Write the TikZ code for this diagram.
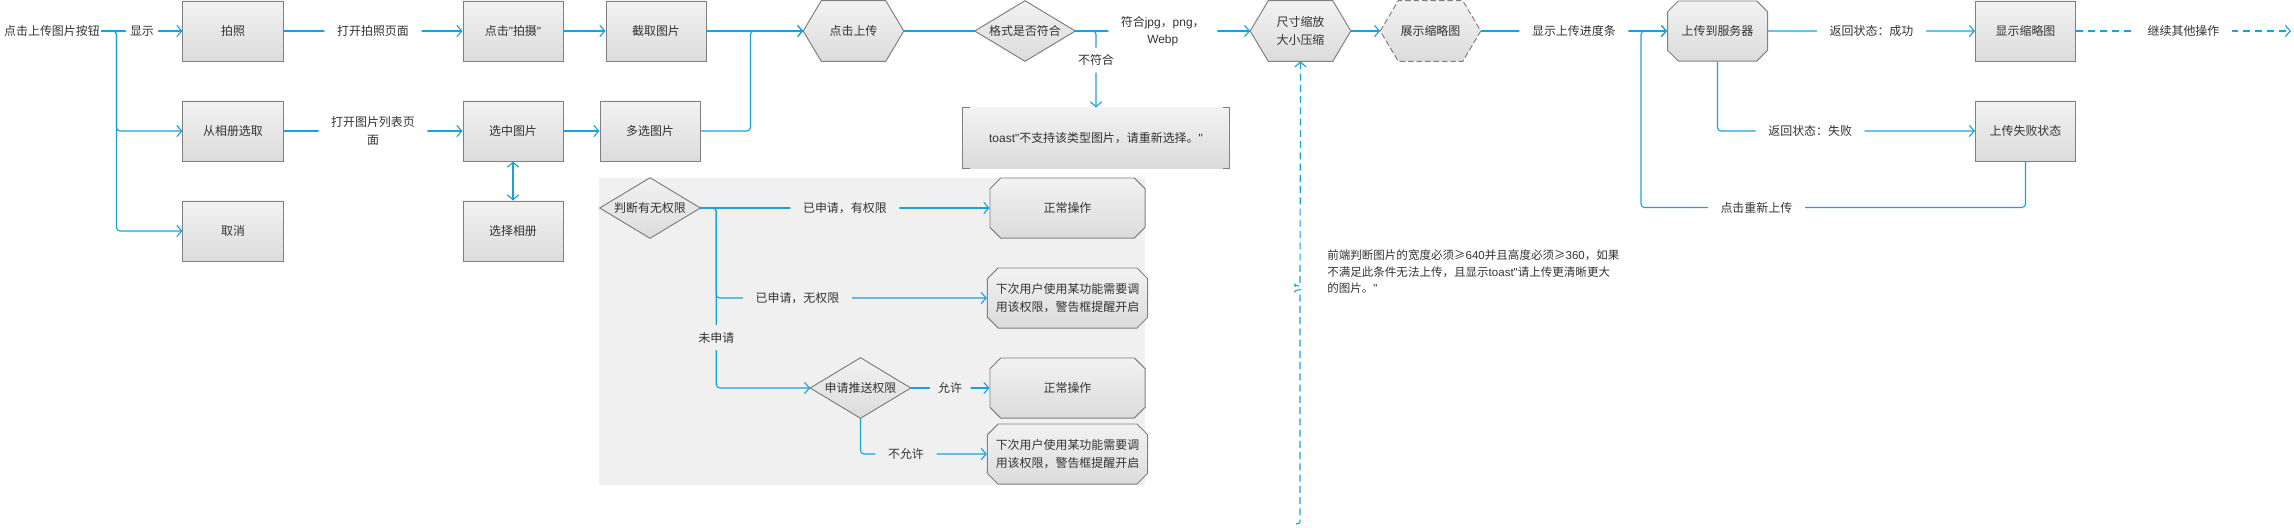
\documentclass[tikz,border=0pt]{standalone}
\usepackage{fontspec}
\setmainfont{Noto Sans CJK SC}
\newfontfamily\lat{Liberation Sans}
\usepackage{xcolor}
\usepackage{tikz}
\usetikzlibrary{arrows.meta,positioning,calc,backgrounds,shapes.misc}
\definecolor{cBlue}{HTML}{1BA1D9}
\definecolor{cEdge}{HTML}{808080}
\definecolor{cInk}{HTML}{333333}
\definecolor{cPanel}{HTML}{F0F0F0}
\newcommand\fs{\fontsize{8.5}{12.5}\selectfont}
\tikzset{
  grad/.style={top color=white!95!black,bottom color=white!86!black},
  box/.style={draw=cEdge,grad,line width=0.7pt,minimum width=2.5cm,minimum height=1.5cm,align=center,font=\fs,text=cInk,inner sep=2pt},
  cbox/.style={box,chamfered rectangle,chamfered rectangle xsep=4pt},
  txt/.style={font=\fs,text=cInk,align=center,inner sep=1pt},
  shp/.style={txt,minimum width=2.5cm,minimum height=1.5cm},
  outl/.style={draw=cEdge,grad,line width=0.7pt},
  arr/.style={-{Straight Barb[length=3.5pt,width=8pt]},line width=0.8pt,color=cBlue,rounded corners=2.5pt},
  ln/.style={line width=0.8pt,color=cBlue,rounded corners=2.5pt},
  darr/.style={{Straight Barb[length=3.5pt,width=8pt]}-{Straight Barb[length=3.5pt,width=8pt]},line width=0.8pt,color=cBlue},
  lbl/.style={font=\fs,text=cInk,fill=white,inner xsep=9pt,inner ysep=5pt,align=center},
  plbl/.style={lbl,fill=cPanel},
}
% outlines drawn behind a text node
\newcommand\hexpath[2][]{\begin{scope}[on background layer]
  \draw[outl,#1] (#2.west) -- ([xshift=0.45cm]#2.north west) -- ([xshift=-0.45cm]#2.north east) -- (#2.east)
    -- ([xshift=-0.45cm]#2.south east) -- ([xshift=0.45cm]#2.south west) -- cycle;
  \end{scope}}
\newcommand\diapath[1]{\begin{scope}[on background layer]
  \draw[outl] (#1.west) -- (#1.north) -- (#1.east) -- (#1.south) -- cycle;
  \end{scope}}

\begin{document}
\begin{tikzpicture}[x=0.025cm,y=-0.025cm]
  \useasboundingbox (0,0) rectangle (2294,527);
  \begin{scope}[on background layer]
    \fill[cPanel] (599,178) rectangle (1145,485);
  \end{scope}

  % entry and choice
  \node[txt] (start) at (52,31) {点击上传图片按钮};
  \node[box] (photo) at (233,31) {拍照};
  \node[box] (album) at (233,131) {从相册选取};
  \node[box] (cancel) at (233,231) {取消};
  \node[box] (shoot) at (513,31) {点击{\lat"}拍摄{\lat"}};
  \node[box] (pick) at (513,131) {选中图片};
  \node[box] (albsel) at (513,231) {选择相册};
  \node[box] (crop) at (656,31) {截取图片};
  \node[box] (multi) at (650,131) {多选图片};

  \draw[arr] (start.east) -- node[lbl,inner xsep=3pt]{显示} (photo.west);
  \draw[arr] (start.east) -- ++(15,0) |- (album.west);
  \draw[arr] (start.east) -- ++(15,0) |- (cancel.west);
  \draw[arr] (photo) -- node[lbl]{打开拍照页面} (shoot);
  \draw[arr] (album) -- node[lbl]{打开图片列表页\\面} (pick);
  \draw[arr] (shoot) -- (crop);
  \draw[arr] (pick) -- (multi);
  \draw[darr] (pick) -- (albsel);

  % checks before upload
  \node[shp] (upload) at (853.5,31) {点击上传};
  \hexpath{upload}
  \node[shp] (fmt) at (1025,31) {格式是否符合};
  \diapath{fmt}
  \node[box,draw=none,minimum width=6.65cm] (toast) at (1096,138) {{\lat toast"}不支持该类型图片，请重新选择。{\lat"}};
  \draw[cEdge,line width=0.7pt] ([xshift=5pt]toast.north west) -- (toast.north west) -- (toast.south west) -- ([xshift=5pt]toast.south west);
  \draw[cEdge,line width=0.7pt] ([xshift=-5pt]toast.north east) -- (toast.north east) -- (toast.south east) -- ([xshift=-5pt]toast.south east);
  \node[shp] (resize) at (1300.5,31) {尺寸缩放\\大小压缩};
  \hexpath{resize}
  \node[shp] (thumb) at (1430.5,31) {展示缩略图};
  \hexpath[dash pattern=on 4pt off 2pt]{thumb}

  \draw[arr] (crop) -- (upload);
  \draw[arr] (multi.east) -- ++(50,0) |- (upload.west);
  \draw[ln] (upload.east) -- (fmt.west);
  \draw[arr] (fmt.east) -- node[lbl]{符合{\lat jpg}，{\lat png}，\\{\lat Webp}} (resize.west);
  \draw[arr] (fmt.east) -| node[lbl,pos=0.69]{不符合} (toast.north);
  \draw[arr] (resize.east) -- (thumb.west);

  % note on picture size
  \node[txt,font=\fontsize{8.2}{11.7}\selectfont,align=left,anchor=west,inner sep=0pt] (rule) at (1327,272)
    {前端判断图片的宽度必须≥{\lat 640}并且高度必须≥{\lat 360}，如果\\不满足此条件无法上传，且显示{\lat toast"}请上传更清晰更大\\的图片。{\lat"}};
  \coordinate (nb) at (1296,524);
  \draw[arr,dash pattern=on 5pt off 3pt] (nb) .. controls (1300,523) .. (1300,518) -- (1300,293)
    .. controls (1300,290) and (1295,290) .. (1295,288) .. controls (1295,286) and (1300,286) .. (1300,283) -- (resize.south);

  % server
  \node[cbox] (server) at (1717.5,31) {上传到服务器};
  \node[box] (showthumb) at (2025.5,31) {显示缩略图};
  \node[box] (fail) at (2025.5,131) {上传失败状态};
  \coordinate (more) at (2291,31);

  \draw[arr] (thumb.east) -- node[lbl]{显示上传进度条} (server.west);
  \draw[arr] (server) -- node[lbl]{返回状态：成功} (showthumb);
  \draw[arr] (server.south) |- node[lbl,pos=0.68]{返回状态：失败} (fail.west);
  \draw[arr,dash pattern=on 5pt off 3.5pt] (showthumb.east) -- node[lbl]{继续其他操作} (more);
  \draw[arr] (fail.south) -- ++(0,46) -| node[lbl,pos=0.35]{点击重新上传} ($(server.west)+(-26,0)$) -- (server.west);

  % permission check
  \node[shp] (perm) at (650,208) {判断有无权限};
  \diapath{perm}
  \node[cbox,minimum width=3.875cm] (ok1) at (1067.5,208) {正常操作};
  \node[cbox,minimum width=3.875cm] (warn1) at (1067.5,298) {下次用户使用某功能需要调\\用该权限，警告框提醒开启};
  \node[shp] (push) at (860.5,388) {申请推送权限};
  \diapath{push}
  \node[cbox,minimum width=3.875cm] (ok2) at (1067.5,388) {正常操作};
  \node[cbox,minimum width=3.875cm] (warn2) at (1067.5,454) {下次用户使用某功能需要调\\用该权限，警告框提醒开启};

  \draw[arr] (perm.east) -- node[plbl]{已申请，有权限} (ok1.west);
  \draw[arr] (perm.east) -- ++(16,0) |- node[plbl,pos=0.65]{已申请，无权限} (warn1.west);
  \draw[arr] (perm.east) -- ++(16,0) |- node[plbl,pos=0.36]{未申请} (push.west);
  \draw[arr] (push.east) -- node[plbl,inner xsep=6pt]{允许} (ok2.west);
  \draw[arr] (push.south) |- node[plbl,pos=0.68]{不允许} (warn2.west);
\end{tikzpicture}
\end{document}
